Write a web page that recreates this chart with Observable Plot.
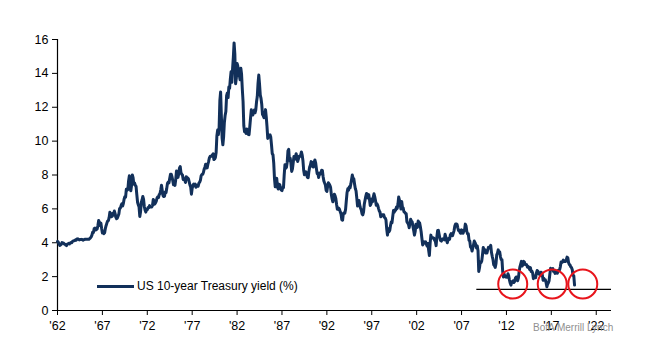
<!DOCTYPE html>
<html>
<head>
<meta charset="utf-8">
<script src="https://cdn.jsdelivr.net/npm/d3@7"></script>
<script src="https://cdn.jsdelivr.net/npm/@observablehq/plot@0.6"></script>
<style>
  body { margin: 0; background: #fff; }
  #wrap { position: relative; width: 655px; height: 364px; font-family: "Liberation Sans", Arial, sans-serif; }
  #legend { position: absolute; left: 97px; top: 279px; display: flex; align-items: center; font-size: 12px; color: #000; }
  #legend .sw { width: 37px; height: 3px; background: #12305a; margin-right: 3px; }
  #src { position: absolute; left: 533px; top: 322px; font-size: 10px; color: #909090; }
</style>
</head>
<body>
<div id="wrap"></div>
<script>
// US 10-year Treasury yield (%), monthly, starting Jan 1962
const startYear = 1962;
const monthlyYield = [
  4.08,4.04,3.93,3.84,3.87,3.91,4.01,3.98,3.98,3.93,3.92,3.86,
  3.83,3.92,3.93,3.97,3.93,3.99,4.02,4.00,4.08,4.11,4.12,4.13,
  4.17,4.15,4.22,4.23,4.20,4.17,4.19,4.19,4.20,4.19,4.15,4.18,
  4.19,4.21,4.21,4.20,4.21,4.21,4.20,4.25,4.29,4.35,4.45,4.62,
  4.61,4.83,4.87,4.75,4.78,4.81,5.02,5.32,5.18,5.01,5.16,4.84,
  4.58,4.63,4.54,4.59,4.85,5.02,5.16,5.28,5.30,5.48,5.80,5.70,
  5.53,5.56,5.74,5.64,5.87,5.72,5.50,5.42,5.46,5.58,5.70,6.03,
  6.04,6.19,6.30,6.17,6.32,6.57,6.72,6.69,7.16,7.10,7.14,7.65,
  7.95,7.24,7.07,7.39,8.00,7.84,7.46,7.53,7.39,7.33,6.84,6.39,
  6.24,6.11,5.55,5.83,6.39,6.52,6.73,6.58,6.14,5.93,5.81,5.93,
  5.95,6.08,6.07,6.19,6.13,6.11,6.11,6.21,6.55,6.48,6.28,6.36,
  6.46,6.64,6.71,6.67,6.85,6.90,7.13,7.40,7.09,6.79,6.73,6.74,
  6.99,6.96,7.21,7.51,7.58,7.54,7.81,8.04,8.04,7.90,7.68,7.43,
  7.50,7.39,7.73,8.23,8.06,7.86,8.06,8.40,8.50,8.14,8.05,8.00,
  7.74,7.79,7.73,7.56,7.90,7.86,7.83,7.77,7.59,7.41,7.29,6.87,
  7.21,7.39,7.46,7.37,7.46,7.28,7.33,7.40,7.34,7.52,7.58,7.69,
  7.96,8.03,8.04,8.15,8.35,8.46,8.64,8.41,8.42,8.64,8.81,9.01,
  9.10,9.10,9.12,9.18,9.25,8.91,8.95,9.03,9.33,10.30,10.65,10.39,
  10.80,12.41,12.90,11.47,10.18,9.78,10.25,11.10,11.51,11.75,12.68,12.84,
  12.57,13.19,13.12,13.68,14.10,13.47,14.28,14.94,15.80,15.15,13.39,13.72,
  14.59,14.43,13.86,13.87,13.62,14.30,13.95,13.06,12.34,10.91,10.55,10.54,
  10.46,10.72,10.51,10.40,10.38,10.85,11.38,11.85,11.65,11.54,11.69,11.83,
  11.67,11.84,12.32,12.63,13.41,13.90,13.36,12.72,12.52,12.16,11.57,11.50,
  11.38,11.51,11.86,11.43,10.85,10.16,10.31,10.33,10.37,10.24,9.78,9.26,
  9.19,8.70,7.78,7.30,7.71,7.80,7.30,7.17,7.45,7.43,7.25,7.11,
  7.08,7.25,7.25,8.02,8.61,8.40,8.45,8.76,9.42,9.52,8.86,8.99,
  8.67,8.21,8.37,8.72,9.09,8.92,9.06,9.26,8.98,8.80,8.96,9.11,
  9.09,9.17,9.36,9.18,8.86,8.28,8.02,8.11,8.19,8.01,7.87,7.84,
  8.21,8.47,8.59,8.79,8.76,8.48,8.47,8.75,8.89,8.72,8.39,8.08,
  8.09,7.85,8.11,8.04,8.07,8.28,8.27,7.90,7.65,7.53,7.42,7.09,
  7.03,7.34,7.54,7.48,7.39,7.26,6.84,6.59,6.42,6.59,6.87,6.77,
  6.60,6.26,5.98,5.97,6.04,5.96,5.81,5.68,5.36,5.33,5.72,5.77,
  5.75,5.97,6.48,6.97,7.18,7.10,7.30,7.24,7.46,7.74,8.00,7.81,
  7.78,7.47,7.20,7.06,6.63,6.17,6.28,6.49,6.20,6.04,5.93,5.71,
  5.65,5.81,6.27,6.51,6.74,6.91,6.87,6.64,6.83,6.53,6.20,6.30,
  6.58,6.42,6.69,6.89,6.71,6.49,6.22,6.30,6.21,6.03,5.88,5.81,
  5.54,5.57,5.65,5.64,5.65,5.50,5.46,5.34,4.81,4.45,4.83,4.65,
  4.72,5.00,5.23,5.18,5.54,5.90,5.79,5.94,5.92,6.11,6.03,6.28,
  6.70,6.52,6.26,5.99,6.44,6.10,6.05,5.83,5.80,5.74,5.72,5.24,
  5.16,5.10,4.89,5.14,5.39,5.28,5.24,4.97,4.73,4.45,4.65,5.09,
  5.04,4.91,5.28,5.21,5.16,4.93,4.65,4.26,3.87,3.94,4.05,4.03,
  4.05,3.90,3.81,3.96,3.57,3.25,3.98,4.45,4.27,4.29,4.30,4.27,
  4.15,4.08,3.83,4.35,4.72,4.73,4.50,4.28,4.13,4.10,4.19,4.23,
  4.22,4.17,4.50,4.34,4.14,4.00,4.18,4.26,4.20,4.46,4.54,4.47,
  4.42,4.57,4.72,4.99,5.11,5.11,5.09,4.88,4.72,4.73,4.60,4.56,
  4.76,4.72,4.56,4.69,4.75,5.10,5.00,4.67,4.52,4.53,4.15,4.10,
  3.74,3.74,3.51,3.68,3.88,4.10,4.01,3.89,3.69,3.81,3.53,2.30,
  2.52,2.87,2.82,2.93,3.29,3.72,3.56,3.59,3.40,3.39,3.40,3.59,
  3.73,3.69,3.73,3.85,3.42,3.20,3.01,2.70,2.65,2.54,2.76,3.29,
  3.39,3.58,3.41,3.46,3.17,3.00,3.00,2.30,1.98,2.15,2.01,1.98,
  1.97,1.97,2.17,2.05,1.80,1.62,1.50,1.68,1.72,1.75,1.65,1.72,
  1.91,1.98,1.96,1.76,1.93,2.30,2.58,2.74,2.90,2.62,2.72,2.90,
  2.86,2.71,2.72,2.71,2.56,2.60,2.54,2.42,2.53,2.30,2.33,2.21,
  1.88,1.98,2.04,1.94,2.20,2.36,2.32,2.17,2.17,2.07,2.26,2.24,
  2.09,1.78,1.89,1.81,1.81,1.64,1.40,1.56,1.63,1.76,2.14,2.49,
  2.43,2.42,2.48,2.30,2.30,2.19,2.32,2.21,2.20,2.36,2.35,2.40,
  2.58,2.86,2.84,2.87,2.98,2.91,2.89,2.89,3.00,3.15,3.12,2.83,
  2.71,2.68,2.57,2.53,2.40,2.07,2.06,1.50
];
const tickYears = [1962,1967,1972,1977,1982,1987,1992,1997,2002,2007,2012,2017,2022];
const yTicks = [0,2,4,6,8,10,12,14,16];
// annotations: red circles at recent lows, flat support line
const circleYears = [2012.7, 2017.1, 2020.5];
const circleLevel = [1.56, 1.56, 1.56];
const supportLevel = 1.25;
const supportFrom = 2008.7;
const supportTo = 2023.7;

const series = monthlyYield.map((v, i) => ({t: startYear + i / 12, v}));
const circles = circleYears.map((t, i) => ({t, v: circleLevel[i]}));

const plot = Plot.plot({
  width: 655,
  height: 364,
  marginLeft: 57,
  marginRight: 44,
  marginTop: 39,
  marginBottom: 54,
  style: {fontFamily: "'Liberation Sans', Arial, sans-serif", fontSize: "12.5px", color: "#000", background: "#fff"},
  x: {domain: [1962, 2023.7]},
  y: {domain: [0, 16]},
  marks: [
    Plot.axisY({ticks: yTicks, tickSize: 5, tickPadding: 4, label: null, tickFormat: d => String(d)}),
    Plot.axisX({ticks: tickYears, tickSize: 5, tickPadding: 6, label: null, tickFormat: d => "'" + String(d).slice(2)}),
    Plot.ruleX([1962], {stroke: "#000", strokeWidth: 1.2}),
    Plot.ruleY([0], {stroke: "#000", strokeWidth: 1.2}),
    Plot.line(series, {x: "t", y: "v", stroke: "#12305a", strokeWidth: 3, strokeLinejoin: "round"}),
    Plot.ruleY([supportLevel], {x1: supportFrom, x2: supportTo, stroke: "#000", strokeWidth: 1.2}),
    Plot.dot(circles, {x: "t", y: "v", r: 14.5, stroke: "#e8141b", strokeWidth: 2, fill: "none"})
  ]
});

const wrap = document.getElementById("wrap");
wrap.appendChild(plot);
const legend = document.createElement("div");
legend.id = "legend";
legend.innerHTML = '<span class="sw"></span><span>US 10-year Treasury yield (%)</span>';
wrap.appendChild(legend);
const src = document.createElement("div");
src.id = "src";
src.textContent = "BofA Merrill Lynch";
wrap.appendChild(src);
</script>
</body>
</html>
